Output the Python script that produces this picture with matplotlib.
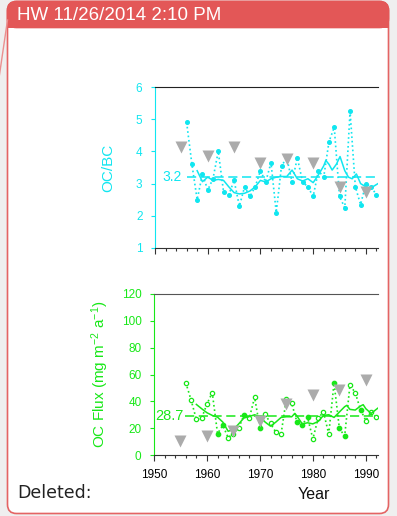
import numpy as np
import matplotlib.pyplot as plt
from matplotlib.patches import FancyBboxPatch, Rectangle

plt.rcParams['font.family'] = ['Liberation Sans', 'DejaVu Sans']
plt.rcParams['mathtext.fontset'] = 'custom'
plt.rcParams['mathtext.rm'] = 'Liberation Sans'
plt.rcParams['mathtext.it'] = 'Liberation Sans:italic'

# OC/BC ratio, yearly
years = list(range(1956, 1993))
ratio = [4.9, 3.6, 2.5, 3.3, 2.8, 3.15, 4.0, 2.75, 2.65, 3.1, 2.3, 2.9, 2.6, 2.9,
         3.4, 3.05, 3.65, 2.1, 3.55, 3.8, 3.05, 3.8, 3.05, 2.9, 2.6, 3.4, 3.2,
         4.3, 4.75, 2.6, 2.25, 5.25, 2.9, 2.35, 3.0, 2.9, 2.65]
ratio_smooth_x = [1958, 1959, 1960, 1961, 1962, 1963, 1964, 1965, 1966, 1967, 1968,
                  1969, 1970, 1971, 1972, 1973, 1974, 1975, 1976, 1977, 1978, 1979,
                  1980, 1981, 1982, 1982.4, 1983, 1983.6, 1984.4, 1985.1, 1986,
                  1986.7, 1987.4, 1988.2, 1989, 1990, 1990.8, 1992.3]
ratio_smooth = [3.4, 3.06, 3.2, 3.1, 3.13, 3.1, 2.9, 2.72, 2.68, 2.7, 2.77,
                2.9, 3.1, 3.05, 3.15, 3.2, 3.22, 3.22, 3.42, 3.15, 3.08, 3.15,
                3.03, 3.27, 3.55, 3.72, 3.6, 3.42, 3.6, 3.84, 3.4,
                3.2, 3.15, 3.3, 3.0, 2.9, 2.85, 3.0]
ratio_5yr_x = [1955, 1960, 1965, 1970, 1975, 1980, 1985, 1990]
ratio_5yr = [4.15, 3.85, 4.15, 3.65, 3.75, 3.65, 2.9, 2.75]
ratio_mean = 3.2

# OC flux, yearly
flux = [54, 41, 26.5, 27.5, 38, 46.5, 16, 22, 13, 16, 20, 30, 27.5, 43, 20,
        30.5, 23.5, 17, 15.7, 42, 38.5, 24.5, 22.7, 28, 12, 27.5, 32, 15.7,
        53.7, 20, 14, 52, 46.5, 33.7, 25.7, 32, 28]
flux_filled = [1962, 1963, 1967, 1970, 1977, 1978, 1979, 1984, 1985, 1986, 1989]
flux_smooth_x = [1958, 1959, 1960, 1961, 1962, 1963, 1964, 1965, 1966, 1967, 1968,
                 1969, 1970, 1971, 1972, 1973, 1974, 1975, 1976, 1976.6, 1977,
                 1978, 1979, 1980, 1981, 1982, 1983, 1984, 1985, 1986, 1986.4,
                 1987, 1988, 1989, 1989.5, 1990, 1991, 1992.3]
flux_smooth = [37.7, 34.5, 31.5, 29.5, 28.2, 24.5, 17.7, 19, 23.2, 27.7, 28.7,
               30, 28.5, 24.5, 21.5, 24.5, 28, 28.5, 28.5, 31, 29,
               23.2, 24, 23.2, 25, 29.5, 30, 28, 32, 36, 37,
               34, 33.5, 36.5, 37.5, 34.5, 31, 35]
flux_5yr_x = [1955, 1960, 1965, 1970, 1975, 1980, 1985, 1990]
flux_5yr = [10.7, 14.5, 18.2, 25.2, 38.2, 44.5, 48.2, 55.7]
flux_mean = 28.7

W, H = 397, 516
CYAN = '#10e6f0'
GREEN = '#18e818'
GREY = '#ababab'
RED = '#e35757'

fig = plt.figure(figsize=(W / 100, H / 100), dpi=100)
fig.patch.set_facecolor('#efefef')

# comment balloon frame
bg = fig.add_axes([0, 0, 1, 1])
bg.set_xlim(0, W)
bg.set_ylim(H, 0)
bg.axis('off')
bg.add_patch(FancyBboxPatch((7.5, 1.5), 381, 512, boxstyle='round,pad=0,rounding_size=9',
                            fc='white', ec='#e46464', lw=1.2))
bg.add_patch(FancyBboxPatch((7.5, 1.5), 381, 26, boxstyle='round,pad=0,rounding_size=9',
                            fc=RED, ec=RED, lw=1.2))
bg.add_patch(Rectangle((7.5, 15), 381, 12.5, fc=RED, ec='none'))
bg.plot([7.5, -1], [20, 78], color='#eb8f8f', lw=1)
bg.text(17, 15, 'HW 11/26/2014 2:10 PM', color='white', fontsize=13.5, va='center')
bg.text(17, 493, 'Deleted:', color='#222222', fontsize=12.5, va='center',
        family=['DejaVu Sans'])


def style_axis(ax, color, top_color):
    ax.spines['right'].set_visible(False)
    ax.spines['left'].set_color(color)
    ax.spines['top'].set_color(top_color)
    ax.spines['bottom'].set_color('#333333')
    ax.set_xlim(1950, 1992.3)
    ax.set_xticks(range(1950, 1993, 10))
    ax.set_xticks(range(1950, 1993, 2), minor=True)
    ax.tick_params(axis='x', which='major', length=4, width=0.8, color='#333333',
                   labelsize=8.5, pad=6)
    ax.tick_params(axis='x', which='minor', length=2.5, width=0.8, color='#333333')
    ax.tick_params(axis='y', length=3, width=0.8, color=color, labelcolor=color,
                   labelsize=8.5, pad=6)
    ax.set_facecolor('none')


# OC/BC panel
ax1 = fig.add_axes([155 / W, 1 - 248 / H, 223 / W, 161 / H])
style_axis(ax1, CYAN, '#222222')
ax1.set_ylim(1, 6)
ax1.set_yticks(range(1, 7))
ax1.tick_params(axis='x', labelbottom=False)
ax1.plot(years, ratio, ls=':', color=CYAN, lw=1.2, marker='o', ms=2.6, mec=CYAN, mfc=CYAN)
ax1.plot(ratio_smooth_x, ratio_smooth, color=CYAN, lw=1.1)
ax1.plot([1956, 1992.3], [ratio_mean] * 2, ls=(0, (6, 3)), color=CYAN, lw=1.1)
ax1.text(1955, ratio_mean, f'{ratio_mean:.1f}', color=CYAN, fontsize=10,
         ha='right', va='center')
ax1.plot(ratio_5yr_x, ratio_5yr, ls='none', marker='v', ms=8.5, color=GREY, mec='none')
ax1.set_ylabel('OC/BC', color=CYAN, fontsize=11)
ax1.yaxis.set_label_coords(-0.18, 0.5)

# OC flux panel
ax2 = fig.add_axes([154 / W, 1 - 455 / H, 224 / W, 161 / H])
style_axis(ax2, GREEN, '#555555')
ax2.set_ylim(0, 120)
ax2.set_yticks(range(0, 121, 20))
ax2.plot(years, flux, ls=':', color=GREEN, lw=1.2)
is_filled = np.isin(years, flux_filled)
yr = np.array(years)
fl = np.array(flux)
ax2.plot(yr[~is_filled], fl[~is_filled], ls='none', marker='o', ms=3.1,
         mec=GREEN, mfc='white', mew=0.9)
ax2.plot(yr[is_filled], fl[is_filled], ls='none', marker='o', ms=3.1,
         mec=GREEN, mfc=GREEN)
ax2.plot(flux_smooth_x, flux_smooth, color=GREEN, lw=1.1)
ax2.plot([1955.8, 1992.3], [flux_mean] * 2, ls=(0, (6, 3)), color=GREEN, lw=1.1)
ax2.text(1955.6, flux_mean, f'{flux_mean:.1f}', color=GREEN, fontsize=10.5,
         ha='right', va='center')
ax2.plot(flux_5yr_x, flux_5yr, ls='none', marker='v', ms=8.5, color=GREY, mec='none')
ax2.set_ylabel('OC Flux (mg m$^{-2}$ a$^{-1}$)', color=GREEN, fontsize=11)
ax2.yaxis.set_label_coords(-0.19, 0.5)
ax2.set_xlabel('Year', fontsize=11.5, color='#111111')
ax2.xaxis.set_label_coords(0.715, -0.2)

fig.savefig('out.png', dpi=100, facecolor=fig.get_facecolor())
